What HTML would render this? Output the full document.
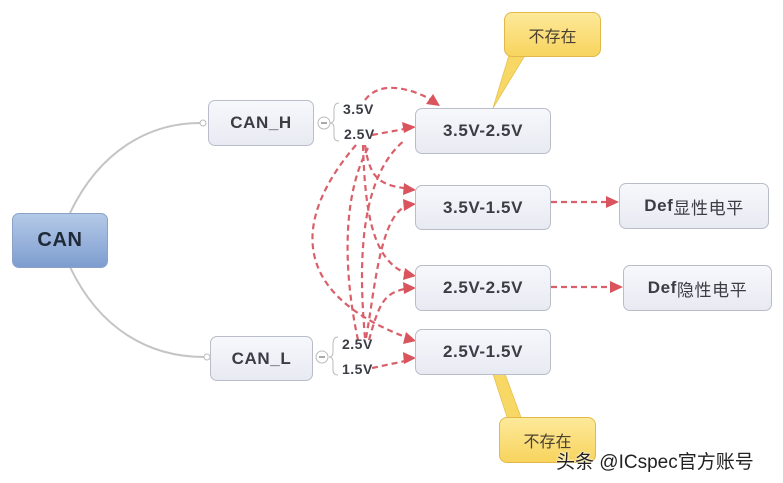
<!DOCTYPE html>
<html><head><meta charset="utf-8"><style>
body{margin:0;width:783px;height:483px;background:#fff;position:relative;overflow:hidden;font-family:"Liberation Sans","Noto Sans CJK SC",sans-serif}
.b{position:absolute;box-sizing:border-box;border:1px solid #b9bdc9;border-radius:7px;background:linear-gradient(#f7f8fc,#e8eaf2);display:flex;align-items:center;justify-content:center;font-weight:bold;font-size:17px;letter-spacing:0.6px;color:#3a3d44}
.c{position:absolute;box-sizing:border-box;border:1px solid #e0b94a;border-radius:8px;background:linear-gradient(#fde99a,#f8d45e);display:flex;align-items:center;justify-content:center;font-size:16px;color:#4a4030}
.t{position:absolute;font-weight:bold;font-size:14px;letter-spacing:0.5px;color:#3a3d44}
svg{position:absolute;left:0;top:0}
</style></head><body>
<svg width="783" height="483">
<path d="M70,213 C100,150 150,123 200,123" fill="none" stroke="#c4c4c4" stroke-width="2"/>
<path d="M70,267 C100,330 150,357 204,357" fill="none" stroke="#c4c4c4" stroke-width="2"/>
<circle cx="203" cy="123" r="3" fill="#fff" stroke="#bbb"/>
<circle cx="207" cy="357" r="3" fill="#fff" stroke="#bbb"/>
<circle cx="324" cy="123" r="6" fill="#fff" stroke="#bbb"/><line x1="321" y1="123" x2="327" y2="123" stroke="#555"/>
<circle cx="322" cy="357" r="6" fill="#fff" stroke="#bbb"/><line x1="319" y1="357" x2="325" y2="357" stroke="#555"/>
<path d="M339,103 Q334,103 334,110 L334,118 Q334,123 330,123 Q334,123 334,128 L334,136 Q334,141 339,141" fill="none" stroke="#bbb"/>
<path d="M338,337 Q333,337 333,344 L333,352 Q333,357 329,357 Q333,357 333,362 L333,370 Q333,375 338,375" fill="none" stroke="#bbb"/>
<g fill="none" stroke="#d9606a" stroke-width="2.2" stroke-dasharray="6,4">
<path d="M365,100 C380,80 410,88 432,100"/>
<path d="M372,135 L410,128"/>
<path d="M365,145 C370,180 380,185 410,189"/>
<path d="M363,145 C365,220 375,262 408,274"/>
<path d="M356,145 C300,210 280,290 408,338"/>
<path d="M365,338 C360,280 355,180 405,140"/>
<path d="M358,340 C345,280 340,200 368,148"/>
<path d="M366,338 C375,290 380,210 410,205"/>
<path d="M369,340 C380,300 385,292 410,288"/>
<path d="M372,368 L410,360"/>
<path d="M551,202 L608,202"/>
<path d="M551,287 L612,287"/>
</g>
<g fill="#d9545c">
<polygon points="440,106 426,104 433,94"/>
<polygon points="416,127 404,133 402,122"/>
<polygon points="416,190 403,195 404,183"/>
<polygon points="416,204 404,211 403,199"/>
<polygon points="416,276 403,280 405,268"/>
<polygon points="416,288 404,294 403,282"/>
<polygon points="416,341 403,344 406,332"/>
<polygon points="416,358 404,364 403,352"/>
<polygon points="619,202 606,208 606,196"/>
<polygon points="623,287 610,293 610,281"/>
</g>
<g fill="#f8d865" stroke="#e6c050" stroke-width="0.8">
<polygon points="510,52 527,52 493,108"/>
<polygon points="493,374 505,374 522,420 508,420"/>
</g>
</svg>
<div class="b" style="left:12px;top:213px;width:96px;height:55px;background:linear-gradient(#b4c9e8,#7e9dcf);border-color:#8aa2c8;font-size:20px;color:#1f2a38">CAN</div>
<div class="b" style="left:208px;top:100px;width:106px;height:46px">CAN_H</div>
<div class="b" style="left:210px;top:336px;width:103px;height:45px">CAN_L</div>
<div class="t" style="left:343px;top:101px">3.5V</div>
<div class="t" style="left:344px;top:126px">2.5V</div>
<div class="t" style="left:342px;top:336px">2.5V</div>
<div class="t" style="left:342px;top:361px">1.5V</div>
<div class="b" style="left:415px;top:108px;width:136px;height:46px">3.5V-2.5V</div>
<div class="b" style="left:415px;top:185px;width:136px;height:45px">3.5V-1.5V</div>
<div class="b" style="left:415px;top:265px;width:136px;height:46px">2.5V-2.5V</div>
<div class="b" style="left:415px;top:329px;width:136px;height:46px">2.5V-1.5V</div>
<div class="b" style="left:619px;top:183px;width:150px;height:46px;font-weight:normal"><b>Def</b>显性电平</div>
<div class="b" style="left:623px;top:265px;width:149px;height:46px;font-weight:normal"><b>Def</b>隐性电平</div>
<div class="c" style="left:504px;top:12px;width:97px;height:45px">不存在</div>
<div class="c" style="left:499px;top:417px;width:97px;height:46px">不存在</div>
<div style="position:absolute;left:556px;top:447px;font-size:19px;color:#222;text-shadow:0 0 2px #fff,0 0 2px #fff">头条 @ICspec官方账号</div>
</body></html>
